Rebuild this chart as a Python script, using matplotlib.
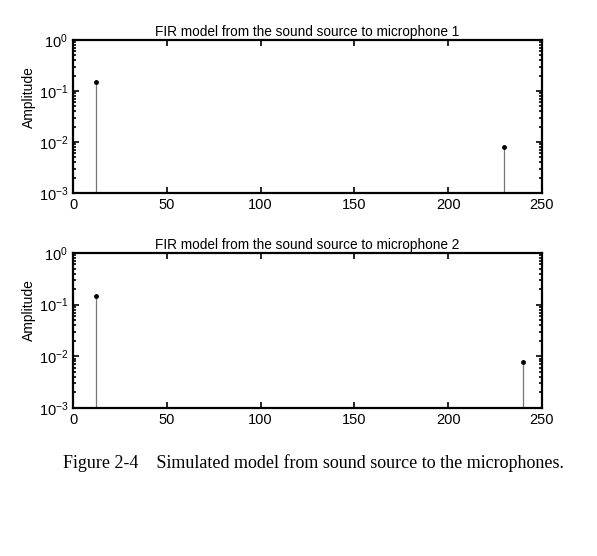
import matplotlib
matplotlib.use("Agg")
import matplotlib.pyplot as plt
import matplotlib.ticker as ticker

plt.rcParams['font.family'] = ['Liberation Sans', 'DejaVu Sans']
plt.rcParams['mathtext.fontset'] = 'custom'
plt.rcParams['mathtext.rm'] = 'Liberation Sans'
plt.rcParams['mathtext.it'] = 'Liberation Sans:italic'
plt.rcParams['axes.unicode_minus'] = False

# FIR taps (sample index, amplitude)
taps_mic1 = [12, 230]
amp_mic1 = [0.15, 0.008]
taps_mic2 = [12, 240]
amp_mic2 = [0.15, 0.0078]
titles = ["FIR model from the sound source to microphone 1",
          "FIR model from the sound source to microphone 2"]
xticks = [0, 50, 100, 150, 200, 250]

fig = plt.figure(figsize=(5.97, 5.56), dpi=100)
W, H = 597, 556
boxes = [(73, 40, 542, 193), (73, 253, 542, 408)]

for (l, t, r, b), x, y, title in zip(boxes, [taps_mic1, taps_mic2],
                                     [amp_mic1, amp_mic2], titles):
    ax = fig.add_axes([l / W, 1 - b / H, (r - l) / W, (b - t) / H])
    ax.set_yscale('log')
    ml, sl, bl = ax.stem(x, y, bottom=1e-3, linefmt='-', markerfmt='k.', basefmt=' ')
    plt.setp(sl, color='#777777', linewidth=0.9)
    plt.setp(ml, markersize=5)
    ax.set_xlim(0, 250)
    ax.set_ylim(1e-3, 1)
    ax.set_xticks(xticks)
    ax.yaxis.set_major_locator(ticker.LogLocator(base=10, numticks=10))
    ax.yaxis.set_minor_locator(ticker.LogLocator(base=10, subs=range(2, 10), numticks=10))
    ax.tick_params(which='both', direction='in', top=True, right=True, labelsize=10.5,
                   width=1.2, colors='black')
    ax.tick_params(which='major', length=4)
    ax.tick_params(which='minor', length=2.5)
    for s in ax.spines.values():
        s.set_linewidth(1.6)
    ax.set_title(title, fontsize=9.8, pad=3)
    ax.set_ylabel("Amplitude", fontsize=10)
    ax.yaxis.set_label_coords(-0.08, 0.63)

fig.text(0.525, 1 - 463 / H,
         "Figure 2-4    Simulated model from sound source to the microphones.",
         ha='center', va='center', fontsize=13, family='Liberation Serif')

fig.savefig("out.png", dpi=100)
